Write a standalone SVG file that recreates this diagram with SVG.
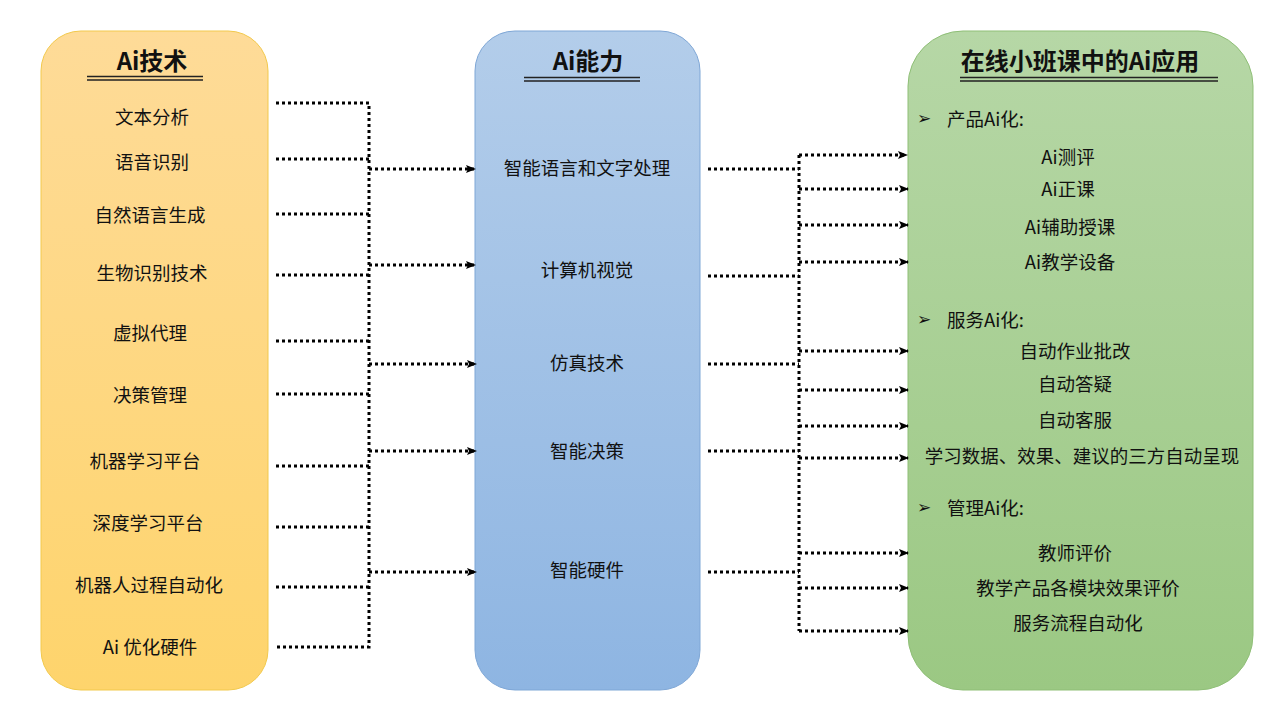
<svg xmlns="http://www.w3.org/2000/svg" width="1280" height="720" viewBox="0 0 1280 720">
<defs>
<linearGradient id="gy" x1="0" y1="0" x2="0" y2="1"><stop offset="0" stop-color="#fedb98"/><stop offset="1" stop-color="#fed46c"/></linearGradient>
<linearGradient id="gb" x1="0" y1="0" x2="0" y2="1"><stop offset="0" stop-color="#b3cdea"/><stop offset="1" stop-color="#8eb5e2"/></linearGradient>
<linearGradient id="gg" x1="0" y1="0" x2="0" y2="1"><stop offset="0" stop-color="#b6d7a6"/><stop offset="1" stop-color="#9bc883"/></linearGradient>
<marker id="ah" markerWidth="10" markerHeight="8" refX="9" refY="4" orient="auto" markerUnits="userSpaceOnUse"><path d="M0,0 L10,4 L0,8 L2,4 Z" fill="#000"/></marker>
</defs>
<style>
.t{font-family:"Microsoft YaHei","Noto Sans CJK SC",sans-serif;font-size:18.5px;fill:#111;text-anchor:middle;dominant-baseline:central}
.h{font-size:24px;font-weight:bold}
.l{text-anchor:start}
.b{font-family:"DejaVu Sans",sans-serif;font-size:17px}
.c{fill:none;stroke:#000;stroke-width:3;stroke-dasharray:3 3}
.a{marker-end:url(#ah)}
.u{stroke:#222;stroke-width:1.5;fill:none}
</style>
<rect width="1280" height="720" fill="#fff"/>
<g id="node-tech">
<rect x="41" y="31" width="227" height="659" rx="40" fill="url(#gy)" stroke="#f2c94c" stroke-width="1"/>
<text class="t h" x="152" y="59">Ai技术</text>
<path class="u" d="M87,76.5H203M87,80H203"/>
<text class="t" x="152" y="116">文本分析</text>
<text class="t" x="152" y="161">语音识别</text>
<text class="t" x="150" y="214">自然语言生成</text>
<text class="t" x="152" y="272">生物识别技术</text>
<text class="t" x="150" y="332">虚拟代理</text>
<text class="t" x="150" y="394">决策管理</text>
<text class="t" x="145" y="460">机器学习平台</text>
<text class="t" x="148" y="522">深度学习平台</text>
<text class="t" x="149" y="584">机器人过程自动化</text>
<text class="t" x="150" y="646">Ai 优化硬件</text>
</g>
<g id="node-ability">
<rect x="475" y="31" width="225" height="659" rx="40" fill="url(#gb)" stroke="#7fa7d6" stroke-width="1"/>
<text class="t h" x="588" y="59">Ai能力</text>
<path class="u" d="M524,77.5H640M524,81H640"/>
<text class="t" x="587" y="167">智能语言和文字处理</text>
<text class="t" x="587" y="269">计算机视觉</text>
<text class="t" x="587" y="362">仿真技术</text>
<text class="t" x="587" y="450">智能决策</text>
<text class="t" x="587" y="569">智能硬件</text>
</g>
<g id="node-app">
<rect x="908" y="31" width="345" height="659" rx="55" fill="url(#gg)" stroke="#8fbf77" stroke-width="1"/>
<text class="t h" x="1080" y="59">在线小班课中的Ai应用</text>
<path class="u" d="M960,77.5H1218M960,81H1218"/>
<text class="t l b" x="917" y="118">➢</text>
<text class="t l" x="947" y="118">产品Ai化:</text>
<text class="t" x="1068" y="156">Ai测评</text>
<text class="t" x="1068" y="188">Ai正课</text>
<text class="t" x="1070" y="226">Ai辅助授课</text>
<text class="t" x="1070" y="261">Ai教学设备</text>
<text class="t l b" x="917" y="319">➢</text>
<text class="t l" x="947" y="319">服务Ai化:</text>
<text class="t" x="1075" y="350">自动作业批改</text>
<text class="t" x="1075" y="383">自动答疑</text>
<text class="t" x="1075" y="419">自动客服</text>
<text class="t" x="1082" y="455">学习数据、效果、建议的三方自动呈现</text>
<text class="t l b" x="917" y="507">➢</text>
<text class="t l" x="947" y="507">管理Ai化:</text>
<text class="t" x="1075" y="552">教师评价</text>
<text class="t" x="1078" y="587">教学产品各模块效果评价</text>
<text class="t" x="1078" y="622">服务流程自动化</text>
</g>
<g id="connectors">
<path class="c" d="M276,103H369V647H276"/>
<path class="c" d="M276,159H369M276,214H369M276,275H369M276,341H369M276,394H369M276,466H369M276,527H369M276,587H369"/>
<path class="c a" d="M369,169H475"/>
<path class="c a" d="M369,265H475"/>
<path class="c a" d="M369,364H476"/>
<path class="c a" d="M369,451H476"/>
<path class="c a" d="M369,572H476"/>
<path class="c" d="M708,169H799M708,276H799M708,364H799M708,451H799M708,572H799"/>
<path class="c" d="M799,155V631"/>
<path class="c a" d="M799,155H907"/>
<path class="c a" d="M799,189H908"/>
<path class="c a" d="M799,225H908"/>
<path class="c a" d="M799,262H908"/>
<path class="c a" d="M799,351H908"/>
<path class="c a" d="M799,390H908"/>
<path class="c a" d="M799,426H908"/>
<path class="c a" d="M799,458H908"/>
<path class="c a" d="M799,553H908"/>
<path class="c a" d="M799,588H908"/>
<path class="c a" d="M799,631H908"/>
</g>
</svg>
